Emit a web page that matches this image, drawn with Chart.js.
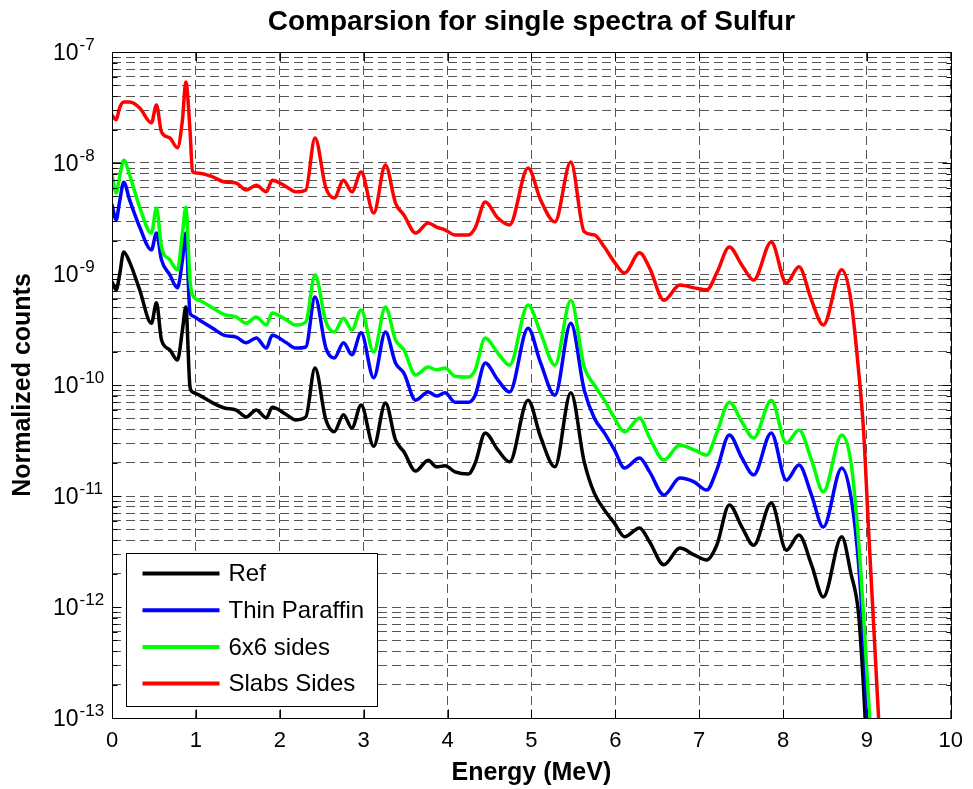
<!DOCTYPE html>
<html>
<head>
<meta charset="utf-8">
<title>Comparsion for single spectra of Sulfur</title>
<script src="https://cdn.jsdelivr.net/npm/chart.js@4.4.1/dist/chart.umd.min.js"></script>
<style>
    body { margin: 0; background: #fff; }
    #wrap { width: 973px; height: 789px; }
</style>
</head>
<body>
<div id="wrap"><canvas id="myGraph" width="973" height="789"></canvas></div>
<script>
// Energy grid (MeV), shared by all four spectra
var energy = [
    0, 0.05, 0.09, 0.14, 0.21, 0.33, 0.47, 0.53, 0.59, 0.69,
    0.78, 0.84, 0.88, 0.93, 0.96, 1.04, 1.20, 1.34, 1.48, 1.60,
    1.72, 1.84, 1.91, 2.08, 2.19, 2.31, 2.42, 2.55, 2.65, 2.76,
    2.86, 2.97, 3.12, 3.26, 3.38, 3.48, 3.62, 3.77, 3.87, 3.97,
    4.09, 4.25, 4.33, 4.45, 4.60, 4.74, 4.96, 5.11, 5.28, 5.47,
    5.63, 5.75, 5.87, 5.99, 6.11, 6.29, 6.41, 6.58, 6.77, 6.94,
    7.09, 7.21, 7.36, 7.51, 7.65, 7.86, 8.04, 8.19, 8.34, 8.48,
    8.70, 8.81, 8.90, 8.96, 9.02, 9.09, 9.16
];

// Normalized counts
var ref = [
    8.5e-10, 7.2e-10, 9.8e-10, 1.58e-9, 1.28e-9, 7.2e-10, 3.6e-10, 5.5e-10, 2.55e-10, 2.07e-10,
    1.68e-10, 3.13e-10, 5.05e-10, 9.6e-11, 8.65e-11, 8.1e-11, 6.9e-11, 6.2e-11, 5.95e-11, 5.15e-11,
    5.95e-11, 5.05e-11, 6.3e-11, 5.4e-11, 4.85e-11, 5.15e-11, 1.42e-10, 4.85e-11, 3.8e-11, 5.4e-11,
    4.1e-11, 6.6e-11, 2.8e-11, 6.9e-11, 3.2e-11, 2.5e-11, 1.68e-11, 2.1e-11, 1.83e-11, 1.87e-11,
    1.65e-11, 1.58e-11, 1.98e-11, 3.7e-11, 2.6e-11, 2.03e-11, 7.3e-11, 3.4e-11, 1.83e-11, 8.5e-11,
    2.03e-11, 1.06e-11, 7.5e-12, 5.7e-12, 4.3e-12, 5.15e-12, 3.85e-12, 2.4e-12, 3.4e-12, 2.95e-12,
    2.65e-12, 3.6e-12, 8.3e-12, 5.25e-12, 3.6e-12, 8.65e-12, 3.25e-12, 4.45e-12, 2.4e-12, 1.23e-12,
    4.3e-12, 2.0e-12, 8.8e-13, 1.9e-13, 2.8e-14, 1.8e-14, 2.3e-15
];
var thinParaffin = [
    4.2e-9, 3.07e-9, 4.45e-9, 6.7e-9, 4.65e-9, 2.65e-9, 1.65e-9, 2.34e-9, 1.34e-9, 9.8e-10,
    7.5e-10, 1.34e-9, 2.34e-9, 4.45e-10, 4.2e-10, 3.85e-10, 3.25e-10, 2.8e-10, 2.7e-10, 2.4e-10,
    2.65e-10, 2.15e-10, 2.8e-10, 2.4e-10, 2.15e-10, 2.2e-10, 6.2e-10, 2.15e-10, 1.75e-10, 2.4e-10,
    1.87e-10, 2.95e-10, 1.16e-10, 3.0e-10, 1.58e-10, 1.28e-10, 7.3e-11, 8.65e-11, 7.95e-11, 8.5e-11,
    7.0e-11, 7.0e-11, 8.1e-11, 1.58e-10, 1.11e-10, 8.65e-11, 3.25e-10, 1.58e-10, 8.1e-11, 3.6e-10,
    9.0e-11, 5.05e-11, 3.7e-11, 2.6e-11, 1.79e-11, 2.2e-11, 1.65e-11, 1.02e-11, 1.45e-11, 1.34e-11,
    1.13e-11, 1.71e-11, 3.54e-11, 2.2e-11, 1.55e-11, 3.7e-11, 1.39e-11, 1.9e-11, 1.02e-11, 5.25e-12,
    1.79e-11, 9.8e-12, 2.5e-12, 5.05e-13, 6.3e-14, 1.8e-14, 2.3e-15
];
var sides6x6 = [
    7.8e-9, 5.37e-9, 7.5e-9, 1.06e-8, 7.8e-9, 4.0e-9, 2.34e-9, 3.93e-9, 1.75e-9, 1.34e-9,
    1.09e-9, 2.34e-9, 4.0e-9, 8.8e-10, 6.45e-10, 5.8e-10, 4.95e-10, 4.3e-10, 4.1e-10, 3.6e-10,
    4.1e-10, 3.47e-10, 4.45e-10, 3.85e-10, 3.47e-10, 3.7e-10, 9.8e-10, 3.7e-10, 3.0e-10, 4.0e-10,
    3.13e-10, 4.75e-10, 1.98e-10, 5.05e-10, 2.55e-10, 2.07e-10, 1.23e-10, 1.45e-10, 1.37e-10, 1.42e-10,
    1.2e-10, 1.18e-10, 1.37e-10, 2.65e-10, 1.94e-10, 1.51e-10, 5.25e-10, 2.95e-10, 1.51e-10, 5.8e-10,
    1.45e-10, 1.0e-10, 7.3e-11, 5.05e-11, 3.77e-11, 5.05e-11, 3.33e-11, 2.11e-11, 2.88e-11, 2.6e-11,
    2.34e-11, 3.7e-11, 7.0e-11, 4.65e-11, 3.33e-11, 7.3e-11, 3.0e-11, 3.93e-11, 2.11e-11, 1.09e-11,
    3.54e-11, 2.0e-11, 4.0e-12, 8.5e-13, 1.45e-13, 2.8e-14, 2.3e-15
];
var slabsSides = [
    2.7e-8, 2.45e-8, 3.13e-8, 3.54e-8, 3.54e-8, 3.13e-8, 2.3e-8, 3.33e-8, 1.9e-8, 1.68e-8,
    1.37e-8, 2.45e-8, 5.37e-8, 1.98e-8, 8.3e-9, 8.1e-9, 7.5e-9, 6.75e-9, 6.6e-9, 5.7e-9,
    6.3e-9, 5.5e-9, 7.0e-9, 6.1e-9, 5.5e-9, 5.7e-9, 1.68e-8, 5.95e-9, 4.84e-9, 7.0e-9,
    5.5e-9, 8.3e-9, 3.54e-9, 9.6e-9, 4.36e-9, 3.4e-9, 2.34e-9, 2.88e-9, 2.65e-9, 2.5e-9,
    2.25e-9, 2.25e-9, 2.6e-9, 4.45e-9, 3.19e-9, 2.77e-9, 9.0e-9, 4.65e-9, 2.95e-9, 1.02e-8,
    2.4e-9, 2.25e-9, 1.75e-9, 1.28e-9, 1.02e-9, 1.55e-9, 1.13e-9, 5.8e-10, 7.95e-10, 7.5e-10,
    7.2e-10, 1.02e-9, 1.75e-9, 1.2e-9, 8.8e-10, 1.94e-9, 8.3e-10, 1.16e-9, 5.8e-10, 3.47e-10,
    1.09e-9, 5.8e-10, 1.37e-10, 3.93e-11, 4.95e-12, 5.05e-13, 5.1e-14
];

// Series names and colours
var seriesNames = ['Ref', 'Thin Paraffin', '6x6 sides', 'Slabs Sides'];
var seriesColors = ['#000000', '#0000ff', '#00ff00', '#ff0000'];

// Axis ticks
var xTicks = [0, 1, 2, 3, 4, 5, 6, 7, 8, 9, 10];
var yExponents = [-13, -12, -11, -10, -9, -8, -7];
var yMinorSteps = [1, 2, 3, 4, 5, 6, 7, 8, 9];

var fontFamily = "'Liberation Sans', Arial, Helvetica, sans-serif";

// Log grid: every 1..9 step inside each decade, then the top decade
var yTicks = [];
yExponents.slice(0, -1).forEach((e) => {
    yMinorSteps.forEach((m) => {
        yTicks.push({ value: m * Math.pow(10, e), major: m === 1 });
    });
});
yTicks.push({ value: Math.pow(10, yExponents[yExponents.length - 1]), major: true });

// Pair energies with counts
var toPoints = (values) => energy.map((e, i) => ({ x: e, y: values[i] }));

// MATLAB style box, inward ticks and 10^n labels
var matlabAxes = {
    id: 'matlabAxes',
    afterDatasetsDraw: (chart) => {
        var c = chart.ctx;
        var a = chart.chartArea;
        var xs = chart.scales.x;
        var ys = chart.scales.y;
        var l = Math.round(a.left) + 0.5, r = Math.round(a.right) + 0.5;
        var t = Math.round(a.top) + 0.5, b = Math.round(a.bottom) + 0.5;

        c.save();
        c.strokeStyle = '#000';
        c.lineWidth = 1;
        c.beginPath();
        c.rect(l, t, r - l, b - t);

        // x ticks, bottom and top
        xTicks.forEach((v) => {
            var px = Math.round(xs.getPixelForValue(v)) + 0.5;
            c.moveTo(px, b); c.lineTo(px, b - 9);
            c.moveTo(px, t); c.lineTo(px, t + 9);
        });

        // y ticks, left and right
        yTicks.forEach((tk) => {
            var py = Math.round(ys.getPixelForValue(tk.value)) + 0.5;
            var len = tk.major ? 9 : 5;
            c.moveTo(l, py); c.lineTo(l + len, py);
            c.moveTo(r, py); c.lineTo(r - len, py);
        });
        c.stroke();

        // y labels as 10 with a raised exponent
        c.fillStyle = '#000';
        c.textAlign = 'left';
        c.textBaseline = 'alphabetic';
        yExponents.forEach((e) => {
            var py = ys.getPixelForValue(Math.pow(10, e));
            c.font = '23px ' + fontFamily;
            c.fillText('10', 53, py + 8);
            var w = c.measureText('10').width;
            c.font = '17px ' + fontFamily;
            c.fillText(String(e), 53 + w + 1, py - 2);
        });
        c.restore();
    },
    afterDraw: (chart) => {
        // Legend in the lower left corner of the axes
        var c = chart.ctx;
        var a = chart.chartArea;
        var left = Math.round(a.left) + 14.5;
        var top = Math.round(a.bottom) - 164.5;
        var w = 251, h = 153;

        c.save();
        c.fillStyle = '#fff';
        c.fillRect(left, top, w, h);
        c.strokeStyle = '#000';
        c.lineWidth = 1;
        c.strokeRect(left, top, w, h);

        c.font = '24px ' + fontFamily;
        c.textBaseline = 'middle';
        c.textAlign = 'left';
        chart.data.datasets.forEach((ds, i) => {
            var y = top + 20 + i * 36.7;
            c.strokeStyle = ds.borderColor;
            c.lineWidth = 4;
            c.beginPath();
            c.moveTo(left + 16, y);
            c.lineTo(left + 93, y);
            c.stroke();
            c.fillStyle = '#000';
            c.fillText(ds.label, left + 102, y + 1);
        });
        c.restore();
    }
};

// Build datasets, last one drawn on top
var seriesValues = [ref, thinParaffin, sides6x6, slabsSides];
var datasets = seriesValues.map((values, i) => ({
    label: seriesNames[i],
    data: toPoints(values),
    borderColor: seriesColors[i],
    backgroundColor: seriesColors[i],
    borderWidth: 3.5,
    borderJoinStyle: 'round',
    borderCapStyle: 'round',
    cubicInterpolationMode: 'monotone',
    pointRadius: 0,
    fill: false,
    order: seriesValues.length - i
}));

var ctx = document.getElementById('myGraph').getContext('2d');

var chart = new Chart(ctx, {
    type: 'line',
    data: { datasets: datasets },
    options: {
        responsive: false,
        animation: false,
        devicePixelRatio: 1,
        layout: { padding: { left: 0, right: 18, top: 0, bottom: 0 } },
        plugins: {
            legend: { display: false },
            tooltip: { enabled: false },
            title: {
                display: true,
                fullSize: false,
                text: 'Comparsion for single spectra of Sulfur',
                color: '#000',
                font: { family: fontFamily, size: 28, weight: 'bold' },
                padding: { top: 5, bottom: 13.4 }
            }
        },
        scales: {
            x: {
                type: 'linear',
                min: 0,
                max: 10,
                afterBuildTicks: (scale) => {
                    scale.ticks = xTicks.map((v) => ({ value: v }));
                },
                afterFit: (scale) => { scale.height = 71; },
                grid: { color: '#555', lineWidth: 1, drawTicks: false },
                border: { display: false, dash: [9, 5] },
                ticks: {
                    color: '#000',
                    padding: 10,
                    maxRotation: 0,
                    autoSkip: false,
                    font: { family: fontFamily, size: 22 }
                },
                title: {
                    display: true,
                    text: 'Energy (MeV)',
                    color: '#000',
                    font: { family: fontFamily, size: 25, weight: 'bold' },
                    padding: { top: 0, bottom: 1 }
                }
            },
            y: {
                type: 'logarithmic',
                min: 1e-13,
                max: 1e-7,
                afterBuildTicks: (scale) => {
                    scale.ticks = yTicks.map((tk) => ({ value: tk.value, major: tk.major }));
                },
                afterFit: (scale) => { scale.width = 112; },
                grid: { color: '#555', lineWidth: 1, drawTicks: false },
                border: { display: false, dash: [9, 5] },
                ticks: { display: false },
                title: {
                    display: true,
                    text: 'Normalized counts',
                    color: '#000',
                    font: { family: fontFamily, size: 25, weight: 'bold' },
                    padding: { top: 8, bottom: 0 }
                }
            }
        }
    },
    plugins: [matlabAxes]
});
</script>
</body>
</html>
